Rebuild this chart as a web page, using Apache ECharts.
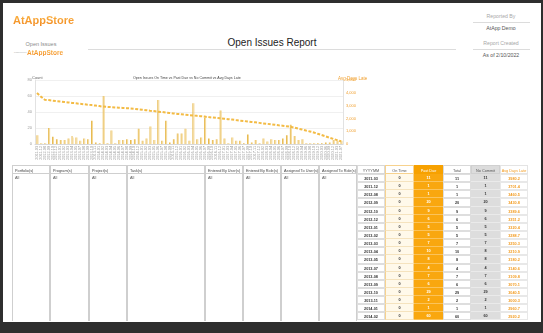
<!DOCTYPE html>
<html><head><meta charset="utf-8">
<script src="https://cdn.jsdelivr.net/npm/echarts@6/dist/echarts.min.js"></script>
<style>
html,body{margin:0;padding:0;}
body{width:543px;height:333px;background:#2e2e2e;overflow:hidden;font-family:"Liberation Sans",Arial,sans-serif;position:relative;}
#page{position:absolute;left:3px;top:3px;width:538px;height:319px;background:#fff;}
.abs{position:absolute;white-space:nowrap;}
.c{transform:translateX(-50%);}
.logo{font-weight:bold;color:#F7941D;background:linear-gradient(#FDBB4C,#F0851A);-webkit-background-clip:text;background-clip:text;-webkit-text-fill-color:transparent;}
.cell{position:absolute;box-sizing:border-box;overflow:hidden;white-space:nowrap;}
#chart{position:absolute;left:0;top:62px;width:370px;height:106px;}
</style></head>
<body>
<div id="page"></div>
<div class="abs logo" style="left:13px;top:14px;font-size:11px;">AtAppStore</div>
<div class="abs c" style="left:41px;top:41px;font-size:5.5px;color:#8a8a8a;">Open Issues</div>
<div class="abs" style="left:14px;top:51px;font-size:2.5px;color:#aaa;">powered by</div>
<div class="abs logo" style="left:27px;top:48.5px;font-size:6.5px;">AtAppStore</div>
<div class="abs" style="left:88px;top:49px;width:368px;height:1px;background:#dcdcdc;"></div>
<div class="abs c" style="left:272px;top:37px;font-size:10px;color:#222;">Open Issues Report</div>
<div class="abs c" style="left:501px;top:13px;font-size:5.2px;color:#a8a8a8;">Reported By</div>
<div class="abs" style="left:473px;top:22px;width:57px;height:1px;background:#dcdcdc;"></div>
<div class="abs c" style="left:501px;top:25px;font-size:5.2px;color:#555;">AtApp Demo</div>
<div class="abs c" style="left:501px;top:40px;font-size:5.2px;color:#a8a8a8;">Report Created</div>
<div class="abs" style="left:473px;top:49px;width:57px;height:1px;background:#dcdcdc;"></div>
<div class="abs c" style="left:501px;top:52px;font-size:5.2px;color:#555;">As of 2/10/2022</div>
<div id="chart"></div>
<div id="tables"></div>
<script>
// ---- data ----
const months = ['2011-03','2011-12','2012-08','2012-09','2012-10','2012-12','2013-01','2013-02','2013-03','2013-04','2013-05','2013-07','2013-08','2013-09','2013-10','2013-11','2014-01','2014-02','2014-03','2014-04','2014-05','2014-06','2014-07','2014-08','2014-09','2014-10','2014-12','2015-01','2015-02','2015-03','2015-05','2015-06','2015-07','2015-08','2015-09','2015-11','2015-12','2016-01','2016-02','2016-03','2016-04','2016-05','2016-06','2016-07','2016-09','2016-10','2016-11','2016-12','2017-01','2017-03','2017-04','2017-05','2017-06','2017-07','2017-09','2017-10','2017-11','2017-12','2018-02','2018-03','2018-04','2018-05','2018-06','2018-07','2018-09','2018-10','2018-12','2019-02','2019-04','2019-06','2019-08','2019-10','2019-12','2020-03','2020-06','2020-09','2020-12','2021-03','2021-07'];
const onTime = [0,0,0,0,0,0,0,0,0,0,0,0,0,0,0,0,0,0,0,0,0,0,0,0,0,0,0,0,0,0,0,0,0,0,0,0,0,0,0,0,0,0,0,0,0,0,0,0,0,0,0,0,0,0,0,0,0,0,0,0,0,0,0,0,0,0,0,0,0,0,0,0,0,0,0,0,0,0,0];
const pastDue = [11,1,1,20,9,6,5,5,7,10,8,4,7,6,29,2,1,60,1,17,1,5,5,6,5,6,19,4,7,22,5,55,4,29,2,6,13,13,19,4,51,6,8,33,7,5,6,42,7,1,8,4,4,1,12,2,5,1,7,3,6,5,5,7,11,24,10,5,6,1,1,1,1,1,2,2,5,4,4];
const noCommit = [11,1,1,20,9,6,5,5,7,8,8,4,7,6,29,2,1,60,1,17,1,5,5,6,5,6,19,4,7,22,5,55,4,29,2,6,13,13,19,4,51,6,8,33,7,5,6,42,7,1,8,4,4,1,12,2,5,1,7,3,6,5,5,7,11,24,10,5,6,1,1,1,1,1,2,2,5,4,4];
const avgDaysLate = [3980.2,3701.4,3460.5,3430.8,3389.6,3351.2,3320.4,3288.7,3250.3,3210.9,3180.2,3140.6,3109.8,3070.1,3040.5,3000.3,2960.7,2920.2,2901.6,2880.4,2859.9,2840.3,2820.8,2800.1,2780.6,2750.2,2710.9,2680.4,2640.7,2600.3,2570.8,2530.1,2500.6,2460.2,2430.5,2390.8,2350.3,2320.7,2290.2,2260.6,2230.1,2200.4,2170.8,2140.3,2100.6,2070.2,2040.9,2010.4,1980.7,1940.2,1910.6,1870.3,1830.8,1800.1,1760.5,1720.9,1690.3,1650.6,1610.2,1580.7,1540.1,1500.5,1460.8,1430.2,1390.6,1350.3,1280.7,1200.2,1130.6,1050.9,980.4,900.7,800.3,700.8,600.2,500.6,400.1,300.5,210.2];
const countTicks = {min:0, max:80, interval:20};
const daysTicks = {min:0, max:5000, interval:1000};
const filterHeaders = ['Portfolio(s)','Program(s)','Project(s)','Task(s)','Entered By User(s)','Entered By Role(s)','Assigned To User(s)','Assigned To Role(s)'];
const filterValues = ['All','All','All','All','All','All','All','All'];
const tableHeaders = ['YYYYMM','On Time','Past Due','Total','No Commit','Avg Days Late'];
const tableRowCount = 18;

// ---- chart ----
const chart = echarts.init(document.getElementById('chart'), null, {renderer:'canvas'});
const small = 4;
chart.setOption({
  animation:false,
  title:[
    {text:'Count', left:27, top:9, textStyle:{fontSize:small, color:'#666', fontWeight:'normal'}},
    {text:'Open Issues On Time vs Past Due vs No Commit vs Avg Days Late', left:128, top:9, textStyle:{fontSize:3.6, color:'#444', fontWeight:'normal'}},
    {text:'Avg Days Late', left:333, top:9, textStyle:{fontSize:4.5, color:'#F0A030', fontWeight:'normal'}}
  ],
  grid:{left:35, right:27, top:18, bottom:24},
  xAxis:{type:'category', data:months,
    axisLabel:{rotate:90, interval:0, fontSize:3.8, color:'#999', margin:2},
    axisTick:{show:false}, axisLine:{lineStyle:{color:'#d8d8d8'}}},
  yAxis:[
    {type:'value', min:countTicks.min, max:countTicks.max, interval:countTicks.interval,
     axisLabel:{fontSize:small, color:'#999', margin:3},
     splitLine:{lineStyle:{color:'#ececec', width:0.8}},
     axisLine:{show:true, lineStyle:{color:'#e2e2e2'}}, axisTick:{show:false}},
    {type:'value', min:daysTicks.min, max:daysTicks.max, interval:daysTicks.interval,
     axisLabel:{fontSize:small, color:'#F0A030', margin:3},
     splitLine:{show:false},
     axisLine:{show:true, lineStyle:{color:'#e2e2e2'}}, axisTick:{show:false}}
  ],
  series:[
    {name:'On Time', type:'bar', data:onTime, barGap:'0%', barCategoryGap:'40%', itemStyle:{color:'#FBE3A6'}},
    {name:'Past Due', type:'bar', data:pastDue, barGap:'0%', itemStyle:{color:'#E7B94E'}},
    {name:'No Commit', type:'bar', data:noCommit, barGap:'0%', itemStyle:{color:'#F4D896'}},
    {name:'Avg Days Late', type:'line', yAxisIndex:1, data:avgDaysLate, symbol:'none',
     lineStyle:{color:'#F3BB45', width:2, type:[3,1.6]}, z:5}
  ]
});

// ---- tables ----
const T = document.getElementById('tables');
function cell(x,y,w,h,txt,style){
  const d=document.createElement('div'); d.className='cell';
  d.style.left=x+'px'; d.style.top=y+'px'; d.style.width=w+'px'; d.style.height=h+'px';
  Object.assign(d.style, style||{}); d.textContent=txt; T.appendChild(d); return d;
}
// filter table
const fx=[12,50,89,127,205,243,281,319,357];
const hTop=165, hH=9, bTop=174, bBot=320.5;
for(let i=0;i<filterHeaders.length;i++){
  const w=fx[i+1]-fx[i];
  cell(fx[i],hTop,w,hH,filterHeaders[i],{border:'1px solid #cfcfcf',fontSize:'3.8px',color:'#444',padding:'2.5px 0 0 2px'});
  cell(fx[i],bTop,w,bBot-bTop,filterValues[i],{borderLeft:'1px solid #cfcfcf',borderRight:'1px solid #cfcfcf',fontSize:'3.8px',color:'#555',padding:'1.5px 0 0 2px'});
}
// data table
const dx=[357,385,414,443,471,500,528];
const rowH=(bBot-bTop)/tableRowCount;
const colStyle=[
  {h:{background:'#fff',color:'#555',border:'1px solid #d8d8d8'}, b:{background:'#fff',color:'#333',border:'0.5px solid #dedede'}},
  {h:{background:'#fff',color:'#555',border:'1px solid #F7D28E'}, b:{background:'#FFF9EA',color:'#333',borderLeft:'1px solid #F7D28E',borderRight:'1px solid #F7D28E',borderBottom:'0.5px solid #F5E3BE'}},
  {h:{background:'#F7A100',color:'#fff',border:'1px solid #F7A100'}, b:{background:'#F9A70F',color:'#fff',borderBottom:'0.5px solid #FBC35A'}},
  {h:{background:'#fff',color:'#555',border:'1px solid #d8d8d8'}, b:{background:'#fff',color:'#333',border:'0.5px solid #dedede'}},
  {h:{background:'#DCDCDC',color:'#555',border:'1px solid #d0d0d0'}, b:{background:'#DDDDDD',color:'#333',borderBottom:'0.5px solid #eaeaea'}},
  {h:{background:'#fff',color:'#F29A1E',border:'1px solid #e4e4e4'}, b:{background:'#fff',color:'#F29A1E',border:'0.5px solid #e8e8e8'}}
];
for(let j=0;j<tableHeaders.length;j++){
  const w=dx[j+1]-dx[j];
  cell(dx[j],hTop,w,hH,tableHeaders[j],Object.assign({fontSize:'3.8px',textAlign:'center',paddingTop:'2.5px'},colStyle[j].h));
}
for(let r=0;r<tableRowCount;r++){
  const total=onTime[r]+pastDue[r];
  const vals=[months[r],String(onTime[r]),String(pastDue[r]),String(total),String(noCommit[r]),avgDaysLate[r].toFixed(1)];
  const y=bTop+r*rowH;
  for(let j=0;j<vals.length;j++){
    const w=dx[j+1]-dx[j];
    cell(dx[j],y,w,rowH,vals[j],Object.assign({fontSize:'3.8px',textAlign:'center',paddingTop:'2px',fontWeight:'bold'},colStyle[j].b));
  }
}
</script>
</body></html>
